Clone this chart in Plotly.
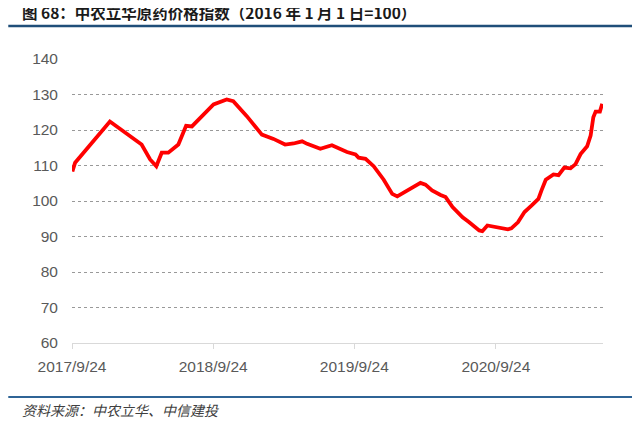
import plotly.graph_objects as go

dates = ['2017-09-25', '2017-10-02', '2017-12-31', '2018-03-23', '2018-04-14', '2018-04-30',
         '2018-05-14', '2018-05-31', '2018-06-26', '2018-07-16', '2018-07-31', '2018-09-25',
         '2018-10-29', '2018-11-15', '2018-12-20', '2019-01-28', '2019-02-27', '2019-03-29',
         '2019-04-20', '2019-05-12', '2019-05-25', '2019-06-28', '2019-07-28', '2019-09-05',
         '2019-09-27', '2019-10-05', '2019-10-23', '2019-11-13', '2019-12-09', '2019-12-31',
         '2020-01-13', '2020-02-08', '2020-03-13', '2020-03-26', '2020-04-12', '2020-05-04',
         '2020-05-17', '2020-06-04', '2020-06-30', '2020-07-17', '2020-08-12', '2020-08-20',
         '2020-09-02', '2020-10-25', '2020-11-03', '2020-11-20', '2020-12-07', '2020-12-25',
         '2021-01-12', '2021-01-20', '2021-01-31', '2021-02-20', '2021-03-05', '2021-03-20',
         '2021-04-05', '2021-04-18', '2021-05-01', '2021-05-18', '2021-05-27', '2021-06-03',
         '2021-06-09', '2021-06-20', '2021-06-26']
index = [108.3, 110.8, 122.4, 115.9, 111.7, 109.8,
         113.6, 113.6, 115.9, 121.2, 121.0, 127.2,
         128.6, 128.1, 123.9, 118.7, 117.5, 115.9,
         116.2, 116.8, 116.1, 114.7, 115.7, 113.8,
         113.1, 112.2, 111.9, 109.8, 106.0, 102.0,
         101.3, 102.9, 105.1, 104.6, 103.0, 101.7,
         101.1, 98.3, 95.4, 94.0, 91.7, 91.5,
         93.1, 92.0, 92.3, 94.0, 96.9, 98.7,
         100.6, 103.0, 106.0, 107.5, 107.3, 109.4,
         109.2, 110.4, 113.2, 115.4, 118.4, 123.6,
         125.2, 125.2, 127.4]

tick_dates = ['2017-09-24', '2018-09-24', '2019-09-24', '2020-09-24']
tick_labels = ['2017/9/24', '2018/9/24', '2019/9/24', '2020/9/24']

title = '图 68：中农立华原药价格指数（2016 年 1 月 1 日=100）'
source = '资料来源：中农立华、中信建投'

fig = go.Figure()
fig.add_trace(go.Scatter(x=dates, y=index, mode='lines',
                         line=dict(color='#FF0000', width=3.8), showlegend=False))

# page body adds 8px margin, so the figure is a bit smaller than the window
fig.update_layout(
    width=632, height=413,
    margin=dict(l=64, r=37, t=51, b=78),
    paper_bgcolor='white', plot_bgcolor='white',
    font=dict(family='Liberation Sans, Arial, sans-serif', color='#595959'),
)
fig.update_xaxes(
    type='date', range=['2017-09-24', '2021-06-28'],
    tickvals=tick_dates, ticktext=tick_labels,
    tickfont=dict(size=15.5, color='#595959'),
    showgrid=False, showline=True, linecolor='#D9D9D9', linewidth=1,
    ticks='outside', ticklen=5, tickcolor='#D9D9D9', ticklabelstandoff=4,
)
fig.update_yaxes(
    range=[60, 140], dtick=10,
    tickfont=dict(size=15.5, color='#595959'),
    showgrid=True, gridcolor='#999999', griddash='dot', gridwidth=1,
    zeroline=False, ticklabelstandoff=13,
)

# title and source text outside the plot, plus the blue rules
fig.add_annotation(text='<b>' + title + '</b>', xref='paper', yref='paper',
                   x=-0.098, y=1.166, xanchor='left', yanchor='middle', showarrow=False,
                   font=dict(family='Noto Sans CJK SC', size=15.5, color='#1A1A1A'))
fig.add_annotation(text='<i>' + source + '</i>', xref='paper', yref='paper',
                   x=-0.098, y=-0.236, xanchor='left', yanchor='middle', showarrow=False,
                   font=dict(family='Noto Sans CJK SC', size=14, color='#404040'))
fig.add_shape(type='line', xref='paper', yref='paper', x0=-0.12, x1=1.056, y0=1.116, y1=1.116,
              line=dict(color='#1F4E79', width=2.5))
fig.add_shape(type='line', xref='paper', yref='paper', x0=-0.12, x1=1.056, y0=-0.19, y1=-0.19,
              line=dict(color='#2F6496', width=2))

fig.write_html('out.html')
